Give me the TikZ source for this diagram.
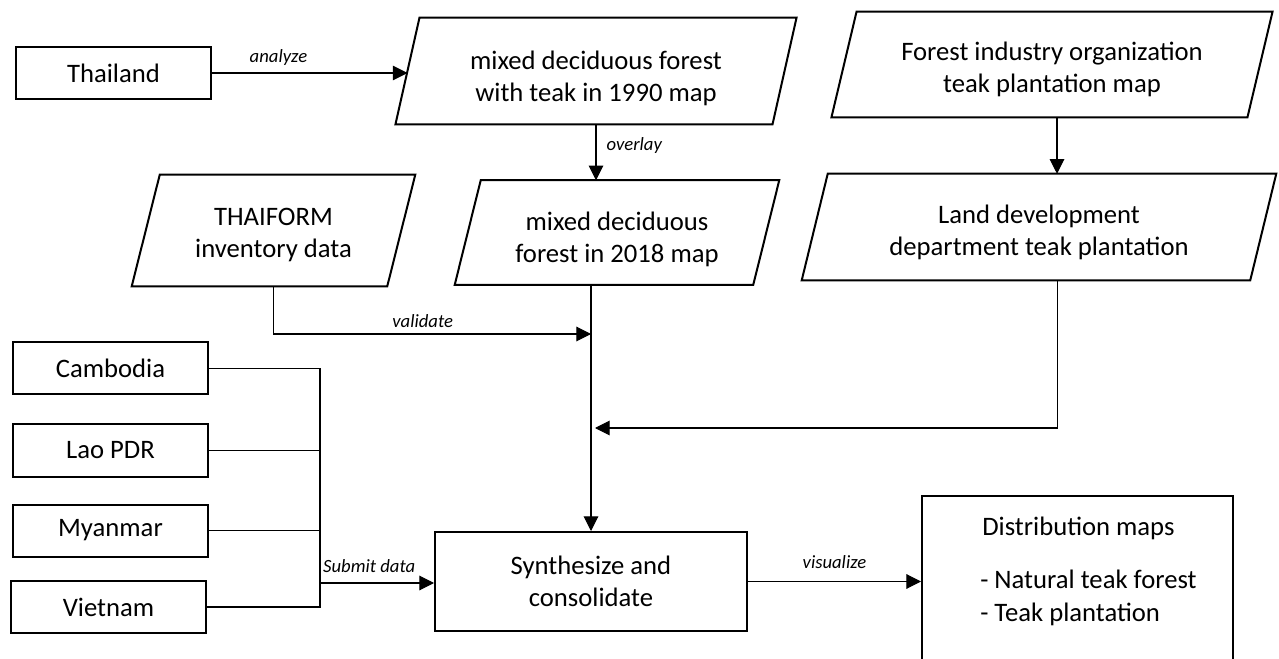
\documentclass[tikz,border=0pt]{standalone}
\usepackage{fontspec}
\setmainfont{Carlito}
\usetikzlibrary{arrows.meta,calc}
\newcommand\drawpara[2]{\draw[pline] ([xshift=#2]#1.north west) -- ([xshift=#2]#1.north east) -- ([xshift=-#2]#1.south east) -- ([xshift=-#2]#1.south west) -- cycle;}
\begin{document}
\begin{tikzpicture}[x=0.75pt,y=-0.75pt,
  box/.style={draw, line width=1.5pt, rectangle, inner sep=0pt, font=\fontsize{20}{24}\selectfont, align=center},
  ctry/.style={box, minimum width=146.25pt, minimum height=39pt},
  ptext/.style={rectangle, inner sep=0pt, font=\fontsize{20}{24}\selectfont, align=center},
  pline/.style={line width=1.5pt, line join=miter},
  conn/.style={line width=0.8pt},
  arr/.style={conn, -{Triangle[length=11pt,width=11pt]}},
  lbl/.style={font=\fontsize{14}{17}\selectfont\itshape, inner sep=0pt}
]
\clip (0,0) rectangle (1279,659);
\fill[white] (0,0) rectangle (1279,659);

% rectangles
\node[ctry] (thai) at (113.5,73) {\raisebox{-1.5pt}{Thailand}};
\node[ctry] (camb) at (110.5,368.5) {\raisebox{-1.5pt}{Cambodia}};
\node[ctry] (lao)  at (110.5,450.5) {\raisebox{-1.5pt}{Lao PDR}};
\node[ctry] (mya)  at (110.5,530.5) {\raisebox{-1.5pt}{Myanmar}};
\node[ctry] (viet) at (108.5,607) {\raisebox{-1.5pt}{Vietnam}};
\node[box, minimum width=234pt, minimum height=74.25pt] (synth) at (591,581.5) {Synthesize and\\consolidate};
\node[box, minimum width=233.25pt, minimum height=138pt] (dist) at (1077.5,588) {};
\node[ptext, anchor=base west] (dt1) at (982,535) {Distribution maps};
\node[ptext, anchor=base west] (dt2) at (980,588) {- Natural teak forest};
\node[ptext, anchor=base west] (dt3) at (980,621) {- Teak plantation};

% parallelograms (shape carriers + text)
\node[ptext, minimum width=282.4pt, minimum height=79.5pt] (p1) at (596,71) {};
\drawpara{p1}{9pt}
\node[ptext] (p1t) at ($(p1)+(0,7)$) {mixed deciduous forest\\with teak in 1990 map};
\node[ptext, minimum width=223.5pt, minimum height=78pt] (p2) at (617,232.5) {};
\drawpara{p2}{9.75pt}
\node[ptext] (p2t) at ($(p2)+(0,7)$) {mixed deciduous\\forest in 2018 map};
\node[ptext, minimum width=191.25pt, minimum height=83.25pt] (p3) at (273.5,230.5) {};
\drawpara{p3}{10.5pt}
\node[ptext] (p3t) at ($(p3)+(0,4)$) {THAIFORM\\inventory data};
\node[ptext, minimum width=311.6pt, minimum height=78.75pt] (p4) at (1052,64.5) {};
\drawpara{p4}{9.4pt}
\node[ptext] (p4t) at ($(p4)+(0,5)$) {Forest industry organization\\teak plantation map};
\node[ptext, minimum width=336pt, minimum height=79.5pt] (p5) at (1039,227) {};
\drawpara{p5}{9.75pt}
\node[ptext] (p5t) at ($(p5)+(0,5)$) {Land development\\department teak plantation};

% junction coordinates
\coordinate (vj) at (591,334);
\coordinate (lj) at (595,428);
\coordinate (sj) at (320,583);

% connectors
\draw[arr] (thai.east) -- (thai.east -| p1.west) node[lbl,pos=.34,anchor=base,yshift=8pt]{analyze};
\draw[arr] (p1.south) -- (p1.south |- p2.north) node[lbl,pos=.46,anchor=base west,xshift=7.5pt]{overlay};
\draw[arr] (p2.south -| synth.north) -- (synth.north);
\draw[arr] (p3.south) |- (vj) node[lbl,pos=.735,anchor=base,yshift=4.5pt]{validate};
\draw[arr] ([xshift=3.75pt]p4.south) -- ([xshift=3.75pt]p4.south |- p5.north);
\draw[arr] ([xshift=14pt]p5.south) |- (lj);
\draw[conn] (camb.east) -| (sj);
\draw[conn] (lao.east) -- (lao.east -| sj);
\draw[conn] (mya.east) -- (mya.east -| sj);
\draw[conn] (viet.east) -| (sj);
\draw[arr] (sj) -- (sj -| synth.west) node[lbl,pos=0,anchor=base west,xshift=2pt,yshift=8pt]{Submit data};
\draw[arr] (synth.east) -- (synth.east -| dist.west) node[lbl,pos=.5,anchor=base,yshift=10pt]{visualize};
\end{tikzpicture}
\end{document}
